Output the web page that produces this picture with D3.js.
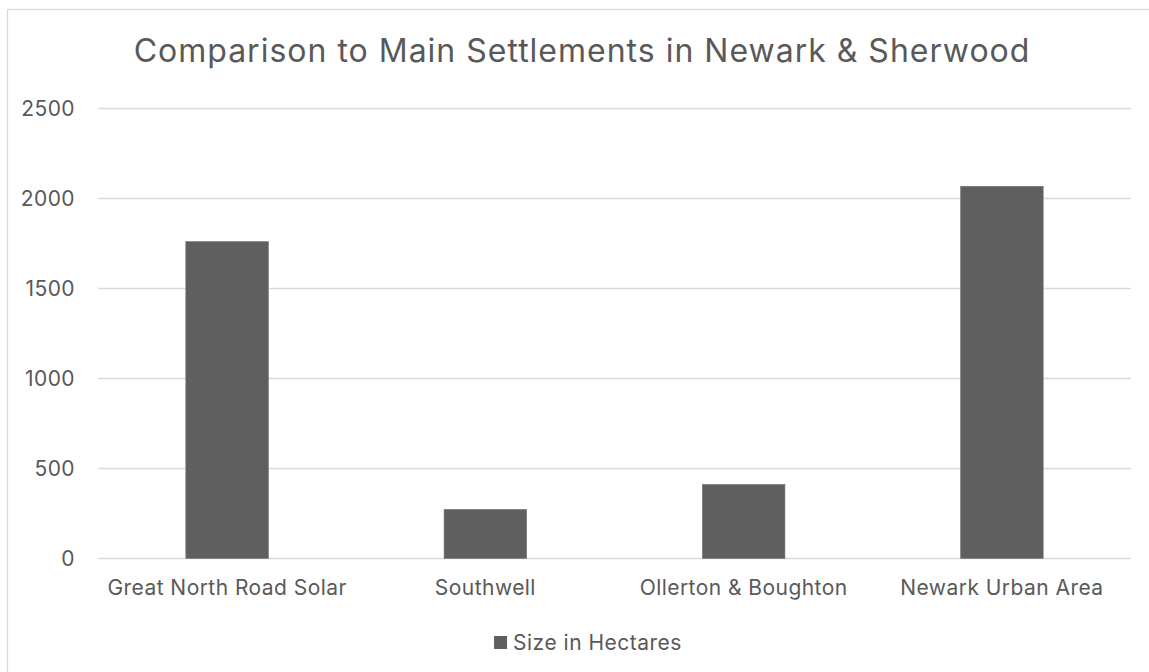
<!DOCTYPE html>
<html>
<head>
<meta charset="utf-8">
<style>
  body { margin: 0; background: #fff; }
  #vis-bars text { font-family: Inter, "Open Sans", sans-serif; fill: #595959; }
</style>
</head>
<body>
<div id="vis-bars"></div>

<script src="https://d3js.org/d3.v7.min.js"></script>
<script>

	// Data //
	// ---- //

	const title = "Comparison to Main Settlements in Newark & Sherwood";
	const categories = ["Great North Road Solar", "Southwell", "Ollerton & Boughton", "Newark Urban Area"];
	const hectares = [1761, 273, 412, 2068];
	const yTicks = [0, 500, 1000, 1500, 2000, 2500];
	const seriesName = "Size in Hectares";

	function barvis() {

		// Setup //
		// ----- //

		let W = 1149, H = 672;
		let margin_ = {top: 108.5, right: 18, bottom: 113.5, left: 98},
			width = W - margin_.left - margin_.right,
			height = H - margin_.top - margin_.bottom;

		let root = d3.select("#vis-bars")
			.append("svg")
				.attr("width", W)
				.attr("height", H);

		// chart area border
		root.append("rect")
			.attr("x", 7.5)
			.attr("y", 9.5)
			.attr("width", W)
			.attr("height", H)
			.attr("fill", "#fff")
			.attr("stroke", "#d9d9d9")
			.attr("stroke-width", 1.3);

		let svg = root.append("g")
			.attr("transform", "translate(" + margin_.left + "," + margin_.top + ")");

		// Scales
		let x = d3.scaleBand().domain(categories).range([0, width])
			.paddingInner(0.68).paddingOuter(0.34);
		let y = d3.scaleLinear().domain([0, 2500]).range([height, 0]);

		// Gridlines
		svg.selectAll(".grid")
			.data(yTicks)
			.enter().append("line")
				.attr("x1", 0)
				.attr("x2", width)
				.attr("y1", d => y(d))
				.attr("y2", d => y(d))
				.attr("stroke", "#d9d9d9")
				.attr("stroke-width", 1.4);

		// Y axis labels
		let yAxis = d3.axisLeft(y).tickValues(yTicks).tickFormat(d3.format("d"))
			.tickSize(0).tickPadding(23);
		let yg = svg.append("g").call(yAxis);
		yg.select(".domain").remove();
		yg.selectAll("text")
			.style("font-size", "21px")
			.style("letter-spacing", "0.4px")
			.attr("fill", "#595959");

		// Bars
		svg.selectAll(".bar")
			.data(hectares)
			.enter().append("rect")
				.attr("x", (d, i) => x(categories[i]))
				.attr("y", d => y(d))
				.attr("width", x.bandwidth())
				.attr("height", d => height - y(d))
				.attr("fill", "#5f5f5f")
				.attr("stroke", "#7a7a7a")
				.attr("stroke-width", 0.6);

		// X axis labels
		let xAxis = d3.axisBottom(x).tickSize(0).tickPadding(22);
		let xg = svg.append("g")
			.attr("transform", "translate(0," + height + ")")
			.call(xAxis);
		xg.select(".domain").remove();
		xg.selectAll("text")
			.style("font-size", "21px")
			.style("letter-spacing", "0.45px")
			.attr("fill", "#595959");

		// Title
		root.append("text")
			.attr("x", 582)
			.attr("y", 62)
			.attr("text-anchor", "middle")
			.style("font-size", "32px")
			.style("letter-spacing", "1px")
			.text(title);

		// Legend
		let lg = root.append("g").attr("transform", "translate(588,0)");
		let lt = lg.append("text")
			.attr("y", 649.5)
			.style("font-size", "21px")
			.style("letter-spacing", "0.5px")
			.text(seriesName);
		let tw = lt.node().getComputedTextLength();
		let lx = -(tw + 19) / 2;
		lg.append("rect")
			.attr("x", lx)
			.attr("y", 636)
			.attr("width", 13)
			.attr("height", 13)
			.attr("fill", "#5f5f5f");
		lt.attr("x", lx + 19);
	}

	let instance_bars = barvis();
</script>
</body>
</html>
